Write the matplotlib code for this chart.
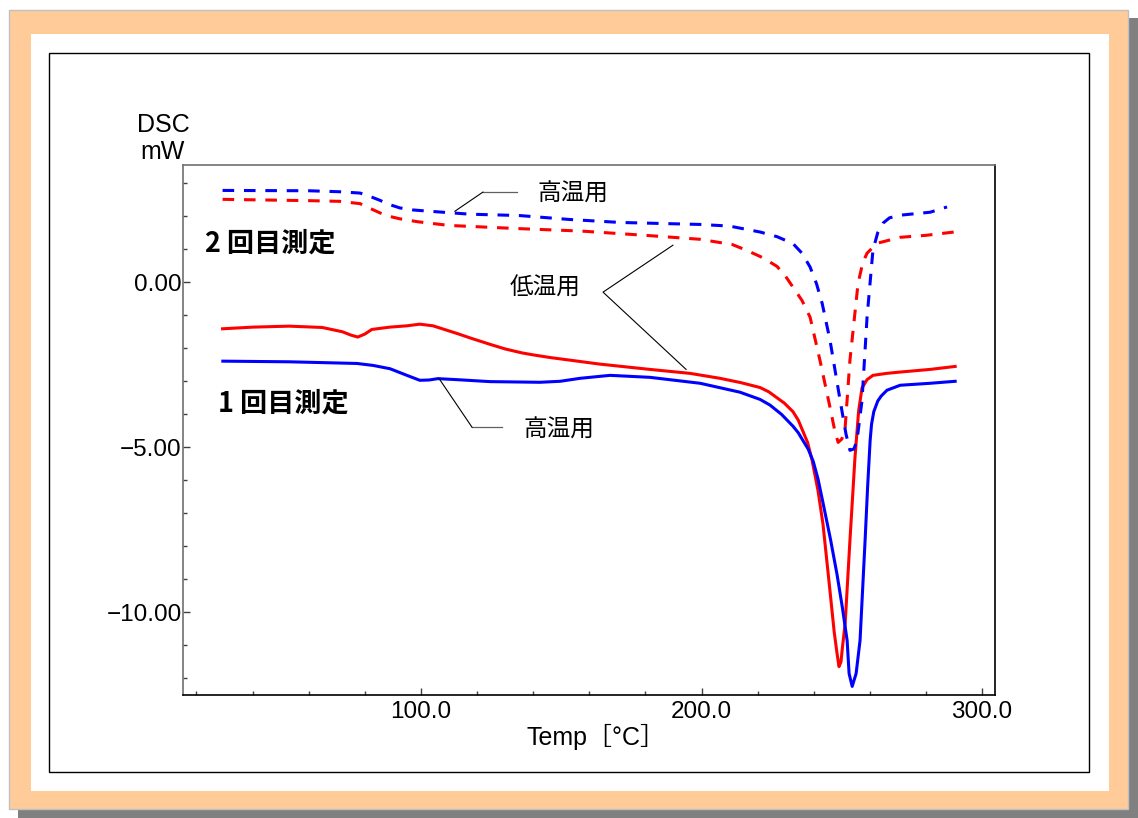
import matplotlib
matplotlib.use('Agg')
import matplotlib.pyplot as plt
import matplotlib.ticker as ticker
from matplotlib.patches import Rectangle

plt.rcParams['font.family'] = ['Liberation Sans', 'Noto Sans CJK JP', 'DejaVu Sans']

# 1回目測定 低温用 (red solid)
temp_1st_low = [29.3, 40, 53, 64.8, 72, 75, 77.5, 80, 82.5, 88.9, 95, 99.6, 104.3, 112.8,
                118, 124.6, 130, 136, 140, 146, 163.8, 181.6, 195.9, 206.6, 214, 220.9,
                224, 229.5, 232.6, 234.5, 237.8, 239.4, 241.5, 243.3, 245.8, 247.3, 248.3,
                249.0, 249.7, 250.3, 251.2, 252.9, 254.7, 256.0, 257.2, 259, 261.1, 266,
                270.8, 281.5, 290.4]
dsc_1st_low = [-1.41, -1.36, -1.33, -1.37, -1.50, -1.60, -1.66, -1.57, -1.43, -1.36, -1.32,
               -1.27, -1.32, -1.55, -1.70, -1.88, -2.02, -2.14, -2.20, -2.28, -2.48, -2.64,
               -2.76, -2.91, -3.04, -3.19, -3.32, -3.66, -3.92, -4.18, -4.85, -5.39, -6.3,
               -7.33, -9.36, -10.6, -11.24, -11.64, -11.5, -11.0, -10.33, -7.82, -5.3,
               -3.9, -3.2, -2.95, -2.82, -2.76, -2.72, -2.64, -2.55]

# 1回目測定 高温用 (blue solid)
temp_1st_high = [29.4, 53.3, 77.2, 83, 89, 95, 99.6, 103, 106, 112.8, 124.6, 142.4, 149.6,
                 156.7, 167.4, 181.6, 199.5, 213.7, 220.9, 224.4, 228.5, 232.6, 234.5,
                 236.2, 238, 239.8, 241.5, 243.3, 246, 248.3, 250.2, 251.9, 252.6, 253.7,
                 255.1, 256.5, 258.3, 259.2, 260.1, 260.6, 261.4, 262.8, 264, 266.1, 270.8,
                 281.5, 290.4]
dsc_1st_high = [-2.39, -2.41, -2.46, -2.52, -2.62, -2.82, -2.97, -2.96, -2.92, -2.95, -3.01,
                -3.03, -3.0, -2.91, -2.82, -2.88, -3.06, -3.33, -3.55, -3.72, -4.0, -4.36,
                -4.56, -4.8, -5.05, -5.42, -5.95, -6.68, -7.8, -8.85, -9.85, -10.85, -11.85,
                -12.24, -11.85, -10.85, -7.82, -6.2, -4.79, -4.3, -3.92, -3.6, -3.45, -3.27,
                -3.12, -3.06, -3.0]

# 2回目測定 高温用 (blue dashed)
temp_2nd_high = [29.3, 60, 71, 78.3, 81.5, 85.4, 88.5, 92.5, 97, 103, 117.5, 135, 153, 171,
                 199.5, 210, 220.9, 226.9, 232.6, 235.8, 238.7, 241, 243, 245.8, 249.4,
                 251.5, 252.9, 254.3, 255.4, 257.2, 259, 261.1, 262.8, 264.7, 267, 270.8,
                 281.5, 287.5]
dsc_2nd_high = [2.78, 2.77, 2.74, 2.70, 2.61, 2.48, 2.36, 2.25, 2.19, 2.15, 2.06, 2.02, 1.90,
                1.81, 1.75, 1.70, 1.52, 1.38, 1.17, 0.88, 0.46, -0.05, -0.64, -1.76, -3.58,
                -4.6, -5.09, -5.05, -4.8, -3.58, -1.06, 0.97, 1.5, 1.79, 1.95, 2.03, 2.12,
                2.28]

# 2回目測定 低温用 (red dashed)
temp_2nd_low = [29.3, 60, 71, 78.3, 81.5, 85.4, 88.5, 92.5, 99, 110, 133, 157, 180, 199.5,
                211, 216, 221.9, 226.9, 229.8, 232.6, 235.8, 238.7, 242.2, 245.8, 247.5,
                248.7, 250, 251.2, 252.9, 255.8, 257.5, 259, 262.6, 270.8, 280, 290]
dsc_2nd_low = [2.51, 2.47, 2.45, 2.38, 2.25, 2.10, 2.0, 1.92, 1.83, 1.72, 1.63, 1.55, 1.42,
               1.30, 1.14, 0.97, 0.74, 0.48, 0.2, -0.15, -0.55, -1.06, -2.36, -3.79, -4.5,
               -4.85, -4.75, -4.39, -2.36, -0.03, 0.6, 0.88, 1.18, 1.36, 1.42, 1.52]

W, H = 1138, 818
fig = plt.figure(figsize=(W / 100, H / 100), dpi=100, facecolor='white')


def box(x0, y0, x1, y1, **kw):
    # pixel box (top-left origin) -> figure rectangle, kept behind the axes
    r = Rectangle((x0 / W, 1 - y1 / H), (x1 - x0) / W, (y1 - y0) / H,
                  transform=fig.transFigure, zorder=-10, **kw)
    fig.patches.append(r)


# frame: shadow, orange border, white card, black inner box
box(18, 18, 1138, 818, facecolor='#808080', edgecolor='none')
box(9, 10, 1128, 809, facecolor='#FFCC99', edgecolor='#C0C0C0', lw=1)
box(31, 34, 1109, 791, facecolor='white', edgecolor='none')
box(49, 53, 1089, 772, facecolor='none', edgecolor='black', lw=1)

ax = fig.add_axes([183 / W, 1 - 695 / H, (995 - 183) / W, (695 - 165) / H])
ax.set_facecolor('white')

ax.plot(temp_1st_low, dsc_1st_low, color='#FF0000', lw=2.2)
ax.plot(temp_1st_high, dsc_1st_high, color='#0000FF', lw=2.2)
ax.plot(temp_2nd_low, dsc_2nd_low, color='#FF0000', lw=2.2, dashes=(3.8, 3.2))
ax.plot(temp_2nd_high, dsc_2nd_high, color='#0000FF', lw=2.2, dashes=(3.8, 3.2))

ax.set_xlim(15.2, 304.6)
ax.set_ylim(-12.5, 3.55)

ax.xaxis.set_major_locator(ticker.MultipleLocator(100))
ax.xaxis.set_minor_locator(ticker.MultipleLocator(20))
ax.yaxis.set_major_locator(ticker.MultipleLocator(5))
ax.yaxis.set_minor_locator(ticker.MultipleLocator(1))
ax.xaxis.set_major_formatter(ticker.FormatStrFormatter('%.1f'))
ax.yaxis.set_major_formatter(ticker.FuncFormatter(lambda v, p: ('%.2f' % v).replace('-', '\u2212')))

ax.tick_params(which='both', direction='in', labelsize=17.5, color='#404040')
ax.tick_params(which='major', length=5, width=1)
ax.tick_params(which='minor', length=3, width=1)
ax.tick_params(axis='x', pad=4)
ax.tick_params(axis='y', pad=1)

for side in ['top', 'left']:
    ax.spines[side].set_color('#707070')
for side in ['bottom', 'right']:
    ax.spines[side].set_color('black')
for s in ax.spines.values():
    s.set_linewidth(1.2)

# axis titles
fig.text(596 / W, 1 - 737 / H, 'Temp［°C］', fontsize=18, ha='center', va='center')
fig.text(163 / W, 1 - 125 / H, 'DSC', fontsize=18, ha='center', va='center')
fig.text(163 / W, 1 - 152 / H, 'mW', fontsize=18, ha='center', va='center')

# annotations
ax.text(23, 1.18, '2 回目測定', fontsize=19.5, fontweight='bold', va='center',
        family=['Noto Sans CJK JP'])
ax.text(27.6, -3.67, '1 回目測定', fontsize=19.5, fontweight='bold', va='center',
        family=['Noto Sans CJK JP'])
ax.text(141.7, 2.67, '高温用', fontsize=17, va='center', family=['Noto Sans CJK JP'])
ax.text(131.7, -0.18, '低温用', fontsize=17, va='center', family=['Noto Sans CJK JP'])
ax.text(136.4, -4.48, '高温用', fontsize=17, va='center', family=['Noto Sans CJK JP'])

# leader lines
ax.plot([134.2, 122.1], [2.73, 2.73], color='#606060', lw=0.9)
ax.plot([122.1, 112.1], [2.73, 2.15], color='black', lw=0.8)
ax.plot([189.8, 164.9, 194.5], [1.12, -0.30, -2.64], color='black', lw=0.8)
ax.plot([128.9, 118.2], [-4.39, -4.39], color='#606060', lw=0.9)
ax.plot([118.2, 106.4], [-4.39, -2.91], color='black', lw=0.8)

fig.savefig('out.png', dpi=100, facecolor=fig.get_facecolor())
